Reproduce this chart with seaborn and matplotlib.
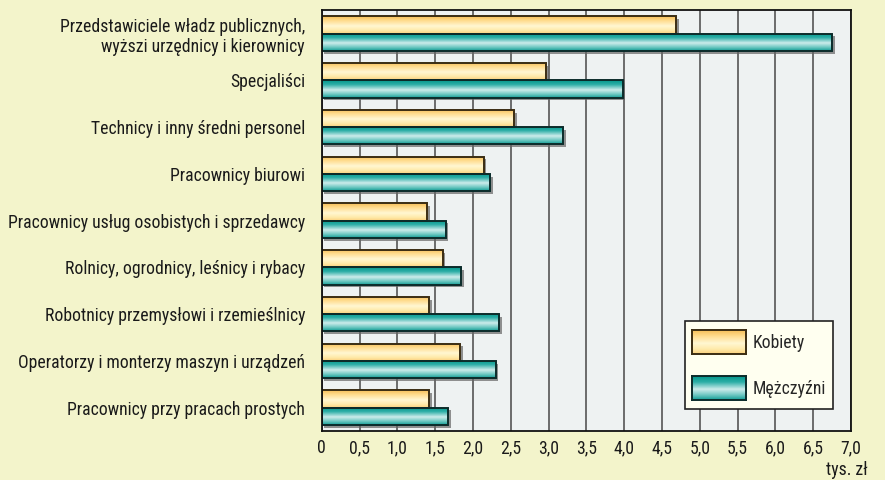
import numpy as np
import pandas as pd
import seaborn as sns
import matplotlib.pyplot as plt
import matplotlib.patheffects as pe
from matplotlib import font_manager
from matplotlib.colors import LinearSegmentedColormap
from matplotlib.patches import Rectangle, Patch

# --- DATA ---
categories = [
    "Przedstawiciele władz publicznych,\nwyższi urzędnicy i kierownicy",
    "Specjaliści",
    "Technicy i inny średni personel",
    "Pracownicy biurowi",
    "Pracownicy usług osobistych i sprzedawcy",
    "Rolnicy, ogrodnicy, leśnicy i rybacy",
    "Robotnicy przemysłowi i rzemieślnicy",
    "Operatorzy i monterzy maszyn i urządzeń",
    "Pracownicy przy pracach prostych",
]
series = ["Kobiety", "Mężczyźni"]
kobiety = [4.69, 2.97, 2.54, 2.14, 1.39, 1.60, 1.42, 1.83, 1.42]
mezczyzni = [6.75, 3.98, 3.19, 2.23, 1.64, 1.84, 2.35, 2.30, 1.67]
x_ticks = [0, 0.5, 1.0, 1.5, 2.0, 2.5, 3.0, 3.5, 4.0, 4.5, 5.0, 5.5, 6.0, 6.5, 7.0]
x_tick_labels = ["0", "0,5", "1,0", "1,5", "2,0", "2,5", "3,0", "3,5", "4,0",
                 "4,5", "5,0", "5,5", "6,0", "6,5", "7,0"]
unit_label = "tys. zł"

# --- STYLE ---
BG = "#F3F4CB"
PLOT_BG = "#EEF2F2"
FS = 12.7
yellow_cmap = LinearSegmentedColormap.from_list(
    "yel", [(0, "#F5BE58"), (0.25, "#FFDC8E"), (0.55, "#FFF7D2"), (0.8, "#FFEAAA"), (1, "#FBD07C")])
teal_cmap = LinearSegmentedColormap.from_list(
    "teal", [(0, "#03968B"), (0.25, "#2EAFA7"), (0.55, "#CDECEB"), (0.8, "#6CC7C1"), (1, "#129D95")])
cmaps = [yellow_cmap, teal_cmap]
mid_colors = ["#FFE6A2", "#5EC2BC"]
edges = ["#3A2C12", "#0B2B2A"]
grad = np.linspace(0, 1, 64).reshape(-1, 1)

FONT_PREFS = ["Liberation Sans Narrow", "Arial Narrow", "Roboto Condensed",
              "Archivo Narrow", "Liberation Sans"]


def main():
    df = pd.DataFrame({
        "zawod": categories * 2,
        "plec": [series[0]] * len(categories) + [series[1]] * len(categories),
        "wartosc": kobiety + mezczyzni,
    })

    sns.set_style("white")
    avail = {f.name for f in font_manager.fontManager.ttflist}
    font = next((f for f in FONT_PREFS if f in avail), "DejaVu Sans")
    plt.rcParams['font.family'] = [font, 'DejaVu Sans']

    fig = plt.figure(figsize=(8.85, 4.8), dpi=100, facecolor=BG)
    ax = fig.add_axes([321.7 / 885, 1 - 431 / 480, (851 - 321.7) / 885, (431 - 10.3) / 480])
    ax.set_facecolor(PLOT_BG)

    sns.barplot(data=df, y="zawod", x="wartosc", hue="plec",
                order=categories, hue_order=series, orient="h",
                palette=mid_colors, saturation=1, width=0.74,
                errorbar=None, legend=False, ax=ax, zorder=2)

    # gradient fill + shadow for each bar
    n = len(categories)
    for i, p in enumerate(ax.patches):
        k = i // n
        bb = p.get_bbox()
        p.set_edgecolor("none")
        p.set_path_effects([pe.SimplePatchShadow(offset=(2, -2), shadow_rgbFace="#666666", alpha=0.7),
                            pe.Normal()])
        im = ax.imshow(grad, cmap=cmaps[k], aspect="auto", origin="upper",
                       extent=(bb.x0, bb.x1, bb.y1, bb.y0), zorder=2.1)
        im.set_clip_path(p)
        ax.add_patch(Rectangle((bb.x0, bb.y0), bb.width, bb.height, fill=False,
                               edgecolor=edges[k], lw=1.4, zorder=2.2))

    ax.set_xlim(0, 7.0)
    ax.set_ylim(n - 0.5, -0.5)
    ax.set_xticks(x_ticks)
    ax.set_xticklabels(x_tick_labels)
    ax.grid(axis="x", color="#555555", lw=1.2)
    ax.set_axisbelow(True)
    ax.tick_params(axis="both", length=0, labelsize=FS, colors="#1a1a1a")
    ax.tick_params(axis="x", pad=6)
    ax.tick_params(axis="y", pad=12)
    ax.set_xlabel("")
    ax.set_ylabel("")
    for s in ax.spines.values():
        s.set_visible(True)
        s.set_color("#111111")
        s.set_linewidth(1.3)

    fig.text(868 / 885, 1 - 470 / 480, unit_label, ha="right", va="center",
             fontsize=FS, color="#1a1a1a")

    # legend: invisible keys, gradient keys drawn on top afterwards
    handles = [Patch(facecolor="none", edgecolor="none") for _ in series]
    leg = ax.legend(handles=handles, labels=series, loc="lower right",
                    bbox_to_anchor=(832.7 / 885, 1 - 409.3 / 480),
                    bbox_transform=fig.transFigure, borderaxespad=0,
                    fontsize=FS, frameon=True, fancybox=False, framealpha=1,
                    facecolor="#FFFFF0", edgecolor="#222222",
                    handlelength=3.07, handleheight=2.2, labelspacing=0.93,
                    borderpad=0.37, handletextpad=0.4)
    leg.get_frame().set_linewidth(1.2)
    leg.set_zorder(5)

    fig.canvas.draw()
    W, H = fig.bbox.width, fig.bbox.height
    key_h = 24
    for k, lp in enumerate(leg.get_patches()):
        bb = lp.get_window_extent()
        yc = (bb.y0 + bb.y1) / 2
        lax = fig.add_axes([bb.x0 / W, (yc - key_h / 2) / H, bb.width / W, key_h / H])
        lax.imshow(grad, cmap=cmaps[k], aspect="auto", origin="upper", extent=(0, 1, 0, 1))
        lax.set_xlim(0, 1)
        lax.set_ylim(0, 1)
        lax.set_xticks([])
        lax.set_yticks([])
        for s in lax.spines.values():
            s.set_color(edges[k])
            s.set_linewidth(1.4)

    fig.savefig("out.png", dpi=100, facecolor=BG)


if __name__ == "__main__":
    main()
